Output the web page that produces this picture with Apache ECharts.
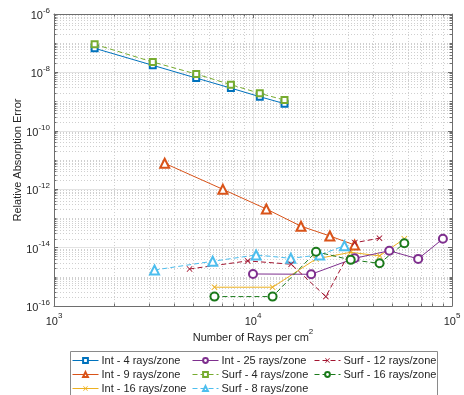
<!DOCTYPE html>
<html>
<head>
<meta charset="utf-8">
<script src="https://cdn.jsdelivr.net/npm/echarts@6/dist/echarts.min.js"></script>
<style>html,body{margin:0;padding:0;background:#fff;}#c{width:464px;height:395px;}</style>
</head>
<body>
<div id="c"></div>
<script>
// ---- data ----
var xInt4  = [1600, 3136, 5184, 7744, 10816, 14400];
var yInt4  = [6.7e-8, 1.75e-8, 6.4e-9, 2.9e-9, 1.47e-9, 8.5e-10];
var xInt9  = [3600, 7056, 11664, 17424, 24336, 32400];
var yInt9  = [7.7e-12, 9.9e-13, 2.1e-13, 5.4e-14, 2.5e-14, 1.23e-14];
var xInt16 = [6400, 12544, 20736, 30976, 43264, 57600];
var yInt16 = [4.4e-16, 4.4e-16, 4.1e-15, 6.9e-15, 5.2e-15, 2.0e-14];
var xInt25 = [10000, 19600, 32400, 48400, 67600, 90000];
var yInt25 = [1.25e-15, 1.22e-15, 4.3e-15, 7.8e-15, 4.1e-15, 2.0e-14];
var xSurf4  = [1600, 3136, 5184, 7744, 10816, 14400];
var ySurf4  = [9.2e-8, 2.27e-8, 8.8e-9, 3.8e-9, 1.92e-9, 1.13e-9];
var xSurf8  = [3200, 6272, 10368, 15488, 21632, 28800];
var ySurf8  = [1.71e-15, 3.4e-15, 5.6e-15, 4.3e-15, 5.6e-15, 1.16e-14];
var xSurf12 = [4800, 9408, 15552, 23232, 32448, 43200];
var ySurf12 = [1.85e-15, 3.5e-15, 2.7e-15, 2.1e-16, 1.47e-14, 2.1e-14];
var xSurf16 = [6400, 12544, 20736, 30976, 43264, 57600];
var ySurf16 = [2.1e-16, 2.1e-16, 7.2e-15, 3.8e-15, 2.9e-15, 1.4e-14];

var seriesNames = ['Int - 4 rays/zone', 'Int - 9 rays/zone', 'Int - 16 rays/zone', 'Int - 25 rays/zone',
                   'Surf - 4 rays/zone', 'Surf - 8 rays/zone', 'Surf - 12 rays/zone', 'Surf - 16 rays/zone'];

var X_MIN = 1000, X_MAX = 100000, Y_MIN = 1e-16, Y_MAX = 1e-6;

// ---- styling ----
var FONT = 'Liberation Sans, Arial, Helvetica, sans-serif';
var TXT = '#262626';
var AX = '#6e6e6e';
var XMARK = 'path://M0,1L1,0L5,4L9,0L10,1L6,5L10,9L9,10L5,6L1,10L0,9L4,5Z';

function pairs(xs, ys) { return xs.map(function (x, i) { return [x, ys[i]]; }); }

function mk(name, xs, ys, color, symbol, size, dashed) {
  return {
    name: name, type: 'line', data: pairs(xs, ys),
    symbol: symbol, symbolSize: size,
    lineStyle: { color: color, width: 1, type: dashed ? [5, 3] : 'solid' },
    itemStyle: symbol === XMARK ? { color: color, borderWidth: 0 } : { color: color, borderColor: color, borderWidth: 0.9 },
    emphasis: { disabled: true },
    animation: false, z: 3
  };
}

// minor grid and minor ticks (2..9 x 10^k, plus odd decades on y)
var minorLines = [], minorTicks = [];
var GRID_W = 398, GRID_H = 292, TICK = 2.5;
var xf = Math.pow(X_MAX / X_MIN, TICK / GRID_W);
var yf = Math.pow(Y_MAX / Y_MIN, TICK / GRID_H);
for (var k = 3; k < 5; k++) for (var m = 2; m <= 9; m++) {
  var xv = m * Math.pow(10, k);
  minorLines.push([{ coord: [xv, Y_MIN] }, { coord: [xv, Y_MAX] }]);
  minorTicks.push([{ coord: [xv, Y_MIN] }, { coord: [xv, Y_MIN * yf] }]);
  minorTicks.push([{ coord: [xv, Y_MAX] }, { coord: [xv, Y_MAX / yf] }]);
}
for (var k2 = -16; k2 < -6; k2++) {
  for (var m2 = 1; m2 <= 9; m2++) {
    if (m2 === 1 && (k2 % 2) === 0) continue;
    var yv = m2 * Math.pow(10, k2);
    minorLines.push([{ coord: [X_MIN, yv] }, { coord: [X_MAX, yv] }]);
    minorTicks.push([{ coord: [X_MIN, yv] }, { coord: [X_MIN * xf, yv] }]);
    minorTicks.push([{ coord: [X_MAX, yv] }, { coord: [X_MAX / xf, yv] }]);
  }
}

function expLabel(v) {
  var e = Math.round(Math.log10(v));
  return '{b|10}{s|' + e + '}';
}
var richLab = {
  b: { fontSize: 11, color: TXT, fontFamily: FONT, verticalAlign: 'bottom' },
  s: { fontSize: 8, color: TXT, fontFamily: FONT, padding: [0, 0, 7, 0], verticalAlign: 'bottom' }
};

var series = [
  mk(seriesNames[0], xInt4, yInt4, '#0072BD', 'emptyRect', 6, false),
  mk(seriesNames[1], xInt9, yInt9, '#D95319', 'emptyTriangle', 9, false),
  mk(seriesNames[2], xInt16, yInt16, '#EDB120', XMARK, 6, false),
  mk(seriesNames[3], xInt25, yInt25, '#7E2F8E', 'emptyCircle', 8, false),
  mk(seriesNames[4], xSurf4, ySurf4, '#77AC30', 'emptyRect', 6, true),
  mk(seriesNames[5], xSurf8, ySurf8, '#4DBEEE', 'emptyTriangle', 9, true),
  mk(seriesNames[6], xSurf12, ySurf12, '#A2142F', XMARK, 6, true),
  mk(seriesNames[7], xSurf16, ySurf16, '#1B7A1B', 'emptyCircle', 8, true)
];
series[0].markLine = {
  silent: true, symbol: ['none', 'none'], label: { show: false }, animation: false, z: 1,
  precision: 20,
  lineStyle: { color: '#cfcfcf', type: [1, 2], width: 1 },
  emphasis: { disabled: true },
  data: minorLines
};
series[1].markLine = {
  silent: true, symbol: ['none', 'none'], label: { show: false }, animation: false, z: 2,
  precision: 20,
  lineStyle: { color: AX, type: 'solid', width: 1 },
  emphasis: { disabled: true },
  data: minorTicks
};

function legendCol(left, names) {
  return {
    data: names, orient: 'vertical', left: left, top: 355, height: 40,
    itemWidth: 26, itemHeight: 6, itemGap: 3, padding: 0,
    itemStyle: { borderWidth: 0.9 },
    lineStyle: { width: 1 },
    textStyle: { fontSize: 11, lineHeight: 11, color: TXT, fontFamily: FONT, padding: [0, 0, 0, -2] },
    selectedMode: false
  };
}

var chart = echarts.init(document.getElementById('c'), null, { renderer: 'canvas' });
chart.setOption({
  backgroundColor: '#fff',
  animation: false,
  textStyle: { fontFamily: FONT },
  grid: { left: 54, right: 12, top: 14, bottom: 89, containLabel: false },
  xAxis: [{
    type: 'log', logBase: 10, min: X_MIN, max: X_MAX, interval: 1,
    name: '{a|Number of Rays per cm}{s|2}', nameLocation: 'middle', nameGap: 22, nameMoveOverlap: false,
    nameTextStyle: { rich: {
      a: { fontSize: 11, color: TXT, fontFamily: FONT, verticalAlign: 'bottom' },
      s: { fontSize: 8, color: TXT, fontFamily: FONT, padding: [0, 0, 7, 0], verticalAlign: 'bottom' } } },
    axisLine: { show: true, lineStyle: { color: AX, width: 1 } },
    axisTick: { show: true, inside: true, length: 4, lineStyle: { color: AX } },
    axisLabel: { formatter: expLabel, rich: richLab, margin: 6 },
    splitLine: { show: true, lineStyle: { color: '#e3e3e3', width: 1 } }
  }, {
    type: 'log', logBase: 10, min: X_MIN, max: X_MAX, interval: 1, position: 'top',
    axisLine: { show: true, onZero: false, lineStyle: { color: AX, width: 1 } },
    axisTick: { show: true, inside: true, length: 4, lineStyle: { color: AX } },
    axisLabel: { show: false }, splitLine: { show: false }
  }],
  yAxis: [{
    type: 'log', logBase: 10, min: Y_MIN, max: Y_MAX, interval: 2,
    name: 'Relative Absorption Error', nameLocation: 'middle', nameGap: 31, nameMoveOverlap: false,
    nameTextStyle: { fontSize: 11, color: TXT, fontFamily: FONT },
    axisLine: { show: true, lineStyle: { color: AX, width: 1 } },
    axisTick: { show: true, inside: true, length: 4, lineStyle: { color: AX } },
    axisLabel: { formatter: expLabel, rich: richLab, margin: 4 },
    splitLine: { show: true, lineStyle: { color: '#e3e3e3', width: 1 } }
  }, {
    type: 'log', logBase: 10, min: Y_MIN, max: Y_MAX, interval: 2, position: 'right',
    axisLine: { show: true, onZero: false, lineStyle: { color: AX, width: 1 } },
    axisTick: { show: true, inside: true, length: 4, lineStyle: { color: AX } },
    axisLabel: { show: false }, splitLine: { show: false }
  }],
  legend: [
    legendCol(72, seriesNames.slice(0, 3)),
    legendCol(192, [seriesNames[3], seriesNames[4], seriesNames[5]]),
    legendCol(314, [seriesNames[6], seriesNames[7]])
  ],
  graphic: [{
    type: 'rect', left: 70, top: 351, z: -1, silent: true,
    shape: { width: 367, height: 60 },
    style: { fill: '#fff', stroke: '#8a8a8a', lineWidth: 1 }
  }],
  series: series
});
</script>
</body>
</html>
